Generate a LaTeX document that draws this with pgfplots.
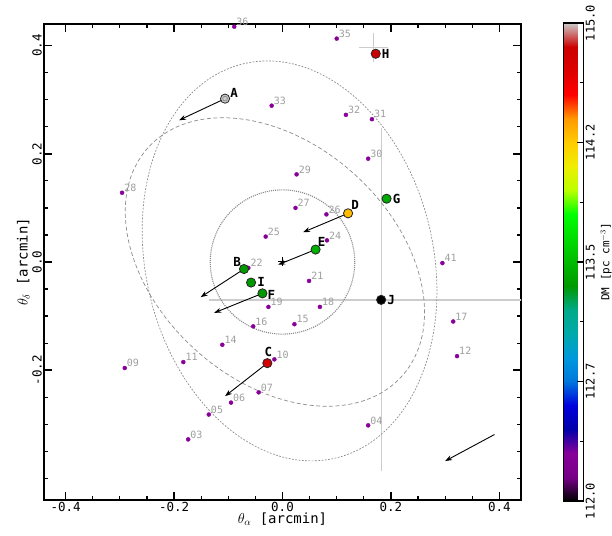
\documentclass[border=0pt]{standalone}
\usepackage{fontspec}
\setmainfont{DejaVu Sans Mono}
\usepackage{pgfplots}
\pgfplotsset{compat=1.18}
\usepackage{pgfplotstable}
\usetikzlibrary{arrows.meta}
\definecolor{starpurple}{rgb}{0.533,0,0.6}
\definecolor{ellgray}{rgb}{0.55,0.55,0.55}
\definecolor{errgray}{rgb}{0.8,0.8,0.8}

\pgfplotstableread{
lab x y
36 -0.089 0.435
35 0.100 0.413
33 -0.020 0.289
32 0.117 0.272
31 0.165 0.264
30 0.158 0.191
29 0.026 0.162
28 -0.296 0.128
27 0.024 0.100
26 0.081 0.088
25 -0.031 0.047
24 0.082 0.040
22 -0.063 -0.011
21 0.049 -0.035
19 -0.026 -0.083
18 0.069 -0.083
16 -0.054 -0.119
15 0.022 -0.115
14 -0.111 -0.153
11 -0.183 -0.185
10 -0.015 -0.180
09 -0.291 -0.196
07 -0.044 -0.241
06 -0.095 -0.260
05 -0.136 -0.282
03 -0.174 -0.328
04 0.158 -0.302
17 0.315 -0.110
12 0.322 -0.174
41 0.295 -0.002
}\stars

\pgfplotstableread{
lab x y dm dx dy
A -0.106 0.302 115.0 9 6
B -0.071 -0.013 113.35 -7 7
C -0.028 -0.187 114.8 1 11
D 0.121 0.090 114.3 7 8
E 0.061 0.023 113.45 6 8
F -0.037 -0.058 113.35 9 -2
G 0.192 0.117 113.42 10 0
H 0.172 0.385 114.85 10 0
I -0.058 -0.038 113.35 10 1
J 0.182 -0.070 112.0 10 0
}\letters

\begin{document}
\begin{tikzpicture}[font=\fontsize{12.5}{14}\selectfont]
\begin{axis}[
  name=main,
  scale only axis, width=477pt, height=476pt,
  xmin=-0.44, xmax=0.44, ymin=-0.44, ymax=0.44,
  xtick={-0.4,-0.2,0,0.2,0.4}, xticklabels={-0.4,-0.2,0.0,0.2,0.4},
  ytick={-0.2,0,0.2,0.4}, yticklabels={-0.2,0.0,0.2,0.4},
  minor xtick={-0.35,-0.3,-0.25,-0.15,-0.1,-0.05,0.05,0.1,0.15,0.25,0.3,0.35},
  minor ytick={-0.4,-0.35,-0.3,-0.25,-0.15,-0.1,-0.05,0.05,0.1,0.15,0.25,0.3,0.35},
  tick align=inside, xtick pos=both, ytick pos=both,
  major tick length=8pt, minor tick length=4pt,
  every tick/.style={black, line width=1.5pt},
  every minor tick/.style={black, line width=1.2pt},
  axis line style={line width=2.4pt},
  yticklabel style={rotate=90, anchor=south, inner sep=2pt},
  xticklabel style={inner sep=2pt},
  xlabel={$\theta_\alpha$ [arcmin]},
  ylabel={$\theta_\delta$ [arcmin]},
  xlabel style={yshift=4pt, font=\fontsize{14}{15}\selectfont},
  ylabel style={yshift=-3pt, font=\fontsize{14}{15}\selectfont},
  colormap={nipy}{rgb=(0,0,0) rgb=(0.4667,0,0.5333) rgb=(0.5333,0,0.6) rgb=(0,0,0.6667) rgb=(0,0,0.8667) rgb=(0,0.4667,0.8667) rgb=(0,0.6,0.8667) rgb=(0,0.6667,0.6667) rgb=(0,0.6667,0.5333) rgb=(0,0.6,0) rgb=(0,0.7333,0) rgb=(0,0.8667,0) rgb=(0,1,0) rgb=(0.7333,1,0) rgb=(0.9333,0.9333,0) rgb=(1,0.8,0) rgb=(1,0.6,0) rgb=(1,0,0) rgb=(0.8667,0,0) rgb=(0.8,0,0) rgb=(0.8,0.8,0.8)},
  point meta min=112, point meta max=115,
  colorbar,
  colorbar style={
    at={(main.north east)}, anchor=north west, xshift=34pt, yshift=1pt,
    width=20pt, height=478pt,
    ytick={112,112.75,113.5,114.25,115},
    yticklabels={112.0,112.7,113.5,114.2,115.0},
    minor ytick={112.375,113.125,113.875,114.625},
    ytick pos=right, yticklabel pos=right,
    tick align=inside,
    major tick length=7pt, minor tick length=3.5pt,
    every tick/.style={black, line width=1.5pt},
    every minor tick/.style={black, line width=1pt},
    axis line style={line width=1.8pt},
    yticklabel style={rotate=90, anchor=north, inner sep=2pt, font=\fontsize{12}{14}\selectfont},
    ylabel={DM [pc cm$^{-3}$]},
    ylabel style={font=\fontsize{11}{13}\selectfont},
  },
]
% error crosses
\addplot[errgray, line width=1.3pt, forget plot] coordinates {(-0.135,-0.070) (0.50,-0.070)};
\addplot[errgray, line width=1.3pt, forget plot] coordinates {(0.182,-0.387) (0.182,0.247)};
\addplot[errgray, line width=1.3pt, forget plot] coordinates {(0.141,0.397) (0.195,0.397)};
\addplot[errgray, line width=1.3pt, forget plot] coordinates {(0.168,0.370) (0.168,0.424)};
% circle and ellipses
\draw[ellgray, densely dotted, line width=1.1pt] (axis cs:0,0) circle [radius=0.1333];
\draw[ellgray, dash pattern=on 4pt off 2.5pt, line width=0.7pt, rotate around={138:(axis cs:-0.014,0)}] (axis cs:-0.014,0) ellipse [x radius=0.315, y radius=0.219];
\draw[ellgray, dash pattern=on 1.8pt off 1.5pt, line width=0.7pt, rotate around={102.9:(axis cs:0.013,0.002)}] (axis cs:0.013,0.002) ellipse [x radius=0.3735, y radius=0.266];
% origin
\addplot[only marks, mark=+, mark size=4.5pt, black, line width=1pt] coordinates {(0,0)};
% stars
\addplot[only marks, mark=*, mark size=2pt, color=starpurple,
  point meta=explicit symbolic, nodes near coords,
  every node near coord/.style={anchor=south west, font=\fontsize{10}{10}\selectfont, text=black!38, inner sep=0.5pt, xshift=1.5pt, yshift=0.5pt}]
  table[x=x, y=y, meta=lab] {\stars};
% arrows
\addplot[-{Stealth[length=7pt,width=5pt]}, black, line width=0.9pt] coordinates {(-0.106,0.302) (-0.191,0.262)};
\addplot[-{Stealth[length=7pt,width=5pt]}, black, line width=0.9pt] coordinates {(0.121,0.090) (0.038,0.055)};
\addplot[-{Stealth[length=7pt,width=5pt]}, black, line width=0.9pt] coordinates {(0.061,0.023) (-0.008,-0.005)};
\addplot[-{Stealth[length=7pt,width=5pt]}, black, line width=0.9pt] coordinates {(-0.071,-0.013) (-0.151,-0.065)};
\addplot[-{Stealth[length=7pt,width=5pt]}, black, line width=0.9pt] coordinates {(-0.037,-0.058) (-0.126,-0.094)};
\addplot[-{Stealth[length=7pt,width=5pt]}, black, line width=0.9pt] coordinates {(-0.028,-0.187) (-0.106,-0.248)};
\addplot[-{Stealth[length=7pt,width=5pt]}, black, line width=0.9pt] coordinates {(0.391,-0.319) (0.300,-0.368)};
% lettered sources: coloured markers
\addplot[scatter, only marks, mark=*, mark size=4.6pt, point meta=explicit,
  scatter/use mapped color={draw=black!85, fill=mapped color}, line width=0.8pt]
  table[x=x, y=y, meta=dm] {\letters};
\addplot[only marks, mark=o, mark size=2.4pt, draw=black!45, line width=0.8pt] coordinates {(-0.106,0.302)};
% lettered sources: labels
\addplot[draw=none, mark=none, point meta=explicit symbolic,
  visualization depends on={\thisrow{dx} \as \ldx},
  visualization depends on={\thisrow{dy} \as \ldy},
  nodes near coords,
  every node near coord/.style={anchor=center, xshift=\ldx pt, yshift=\ldy pt, font=\bfseries\fontsize{12.5}{12.5}\selectfont, text=black, inner sep=0pt}]
  table[x=x, y=y, meta=lab] {\letters};
\end{axis}
\pgfresetboundingbox
\path[use as bounding box] ([shift={(-44pt,-35pt)}]main.south west) rectangle ++(612pt,535pt);
\end{tikzpicture}
\end{document}
